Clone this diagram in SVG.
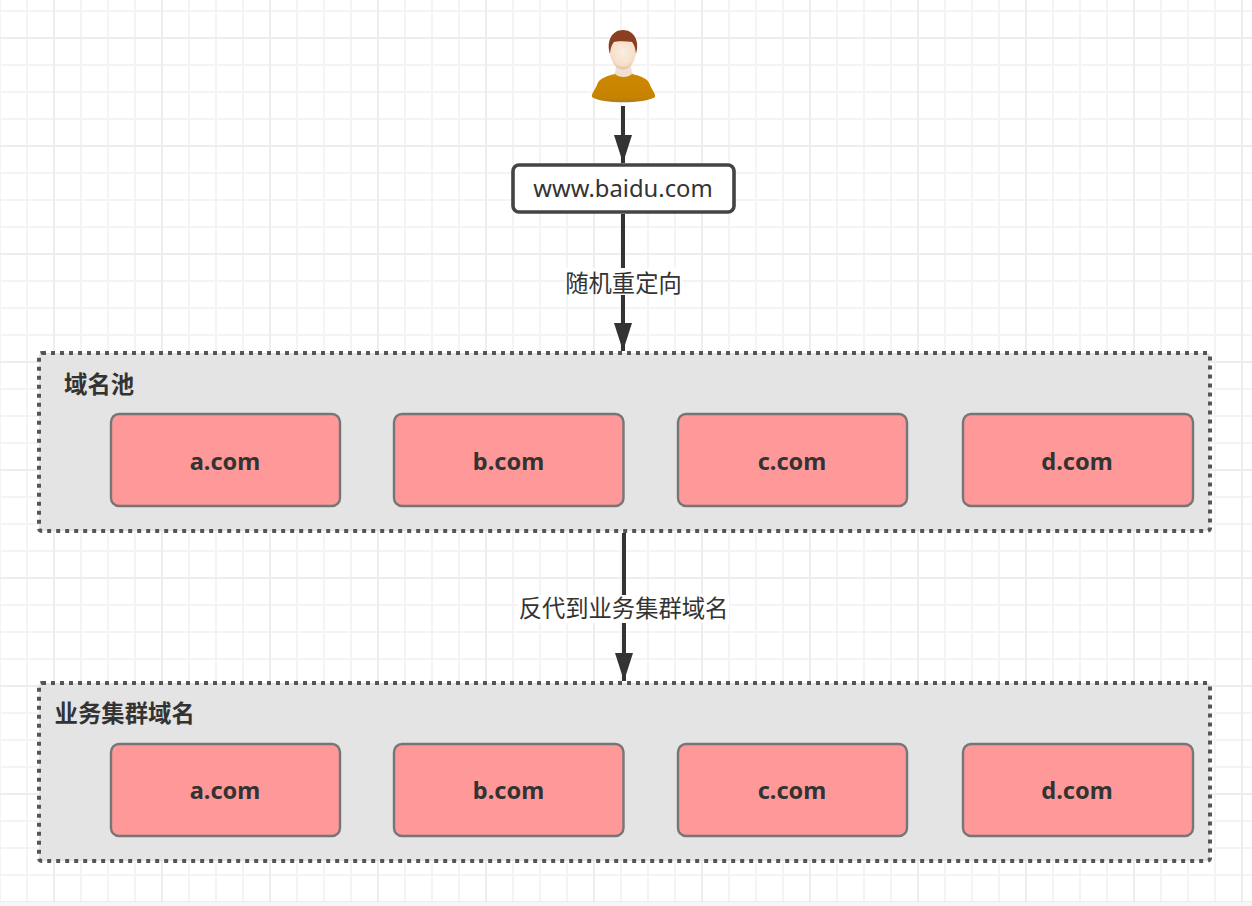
<svg xmlns="http://www.w3.org/2000/svg" width="1252" height="906" viewBox="0 0 1252 906">
<style>
.minor{stroke:#f4f4f4;stroke-width:2;fill:none}
.major{stroke:#ededed;stroke-width:2;fill:none}
.group{fill:#e4e4e4;stroke:#555;stroke-width:4;stroke-dasharray:4 5}
.node rect{fill:#ff9999;stroke:#767676;stroke-width:2.4}
.node text{font-family:"Noto Sans","Noto Sans CJK SC",sans-serif;font-weight:700;font-size:23.6px;fill:#333;text-anchor:middle}
.title{font-family:"Noto Sans CJK SC","Noto Sans",sans-serif;font-weight:700;font-size:23.4px;fill:#333;text-anchor:start}
.edge{stroke:#333;stroke-width:4;fill:none}
.label{font-family:"Noto Sans CJK SC","Noto Sans",sans-serif;font-size:23.300px;fill:#333;text-anchor:middle}
.head{fill:#333}
</style>
<defs>
<marker id="arrow" markerUnits="userSpaceOnUse" markerWidth="28" markerHeight="20" refX="28" refY="10" orient="auto" viewBox="0 0 28 20"><path d="M0 1 L28 10 L0 19 Z" class="head"/></marker>
<radialGradient id="skin" cx="0.5" cy="0.4" r="0.6"><stop offset="0" stop-color="#fbeee0"/><stop offset="0.75" stop-color="#f6dfc9"/><stop offset="1" stop-color="#e2bfa0"/></radialGradient>
<linearGradient id="shirt" x1="0" y1="0" x2="0" y2="1"><stop offset="0" stop-color="#cc8800"/><stop offset="0.85" stop-color="#c78300"/><stop offset="1" stop-color="#a97b2a"/></linearGradient>
</defs>
<rect width="1252" height="906" fill="#fff"/>
<g id="grid">
<path class="minor" d="M0 11H1252M0 65H1252M0 92H1252M0 119H1252M0 173H1252M0 200H1252M0 227H1252M0 281H1252M0 308H1252M0 335H1252M0 389H1252M0 416H1252M0 443H1252M0 497H1252M0 524H1252M0 551H1252M0 605H1252M0 632H1252M0 659H1252M0 713H1252M0 740H1252M0 767H1252M0 821H1252M0 848H1252M0 875H1252"/>
<path class="minor" d="M0 0V906M27 0V906M81 0V906M108 0V906M135 0V906M189 0V906M216 0V906M243 0V906M297 0V906M324 0V906M351 0V906M405 0V906M432 0V906M459 0V906M513 0V906M540 0V906M567 0V906M621 0V906M648 0V906M675 0V906M729 0V906M756 0V906M783 0V906M837 0V906M864 0V906M891 0V906M945 0V906M972 0V906M999 0V906M1053 0V906M1080 0V906M1107 0V906M1161 0V906M1188 0V906M1215 0V906"/>
<path class="major" d="M0 38H1252M0 146H1252M0 254H1252M0 362H1252M0 470H1252M0 578H1252M0 686H1252M0 794H1252M0 902H1252"/>
<path class="major" d="M54 0V906M162 0V906M270 0V906M378 0V906M486 0V906M594 0V906M702 0V906M810 0V906M918 0V906M1026 0V906M1134 0V906M1242 0V906"/>
<rect y="902" width="1252" height="4" fill="#f6f6f6"/>
</g>
<g id="connectors">
<line class="edge" x1="623" y1="106" x2="623" y2="163" marker-end="url(#arrow)"/>
<line class="edge" x1="623" y1="214" x2="623" y2="351" marker-end="url(#arrow)"/>
<line class="edge" x1="624" y1="533" x2="624" y2="681" marker-end="url(#arrow)"/>
</g>
<g id="user">
<path d="M612 76 C615 74 616 72 616 62 L631 62 C631 72 632 74 636 76 L630 80 L618 80 Z" fill="#efe0d0"/>
<path d="M610 50 C609 38 637 38 636 50 C636 58 633 64 629 67.500 C625 70 621 70 617 67.500 C613 64 610 58 610 50 Z" fill="url(#skin)"/>
<path d="M610 54 C606 41 612 30 623 30 C634 30 640 41 636 54 C635.500 49 635 46 632 42 C626 41 618 41 614 42 C611 46 610.500 49 610 54 Z" fill="#8a3f22"/>
<path d="M615 74 C619 78 628 78 632 74 C640 76 648 78 650 85 C652 90 656 94 655 97 C645 104 601 104 592 97 C591 94 595 90 597 85 C599 78 607 76 615 74 Z" fill="url(#shirt)"/>
</g>
<g id="url-node">
<rect x="513" y="165" width="221" height="47" rx="6" fill="#fff" stroke="#444" stroke-width="3.6"/>
<text x="623" y="197" font-family="'Noto Sans','Open Sans',sans-serif" font-size="23.800" fill="#333" text-anchor="middle">www.baidu.com</text>
</g>
<g id="label-redirect">
<rect x="565" y="268" width="117" height="27" fill="#fff"/>
<text class="label" x="623.500" y="292">随机重定向</text>
</g>
<g id="pool">
<rect class="group" x="39" y="353" width="1171" height="178" rx="3"/>
<text class="title" x="64" y="393">域名池</text>
</g>
<g id="pool-a" class="node"><rect x="111" y="414" width="229" height="92" rx="8"/><text x="225" y="469.500">a.com</text></g>
<g id="pool-b" class="node"><rect x="394" y="414" width="229.500" height="92" rx="8"/><text x="508.500" y="469.500">b.com</text></g>
<g id="pool-c" class="node"><rect x="678" y="414" width="229" height="92" rx="8"/><text x="792" y="469.500">c.com</text></g>
<g id="pool-d" class="node"><rect x="963" y="414" width="230" height="92" rx="8"/><text x="1077" y="469.500">d.com</text></g>
<g id="label-proxy">
<rect x="518" y="595" width="211" height="28" fill="#fff"/>
<text class="label" x="623.500" y="617">反代到业务集群域名</text>
</g>
<g id="cluster">
<rect class="group" x="39" y="683" width="1171" height="178" rx="3"/>
<text class="title" x="54.500" y="722">业务集群域名</text>
</g>
<g id="cluster-a" class="node"><rect x="111" y="744" width="229" height="92" rx="8"/><text x="225" y="798.500">a.com</text></g>
<g id="cluster-b" class="node"><rect x="394" y="744" width="229.500" height="92" rx="8"/><text x="508.500" y="798.500">b.com</text></g>
<g id="cluster-c" class="node"><rect x="678" y="744" width="229" height="92" rx="8"/><text x="792" y="798.500">c.com</text></g>
<g id="cluster-d" class="node"><rect x="963" y="744" width="230" height="92" rx="8"/><text x="1077" y="798.500">d.com</text></g>
</svg>
